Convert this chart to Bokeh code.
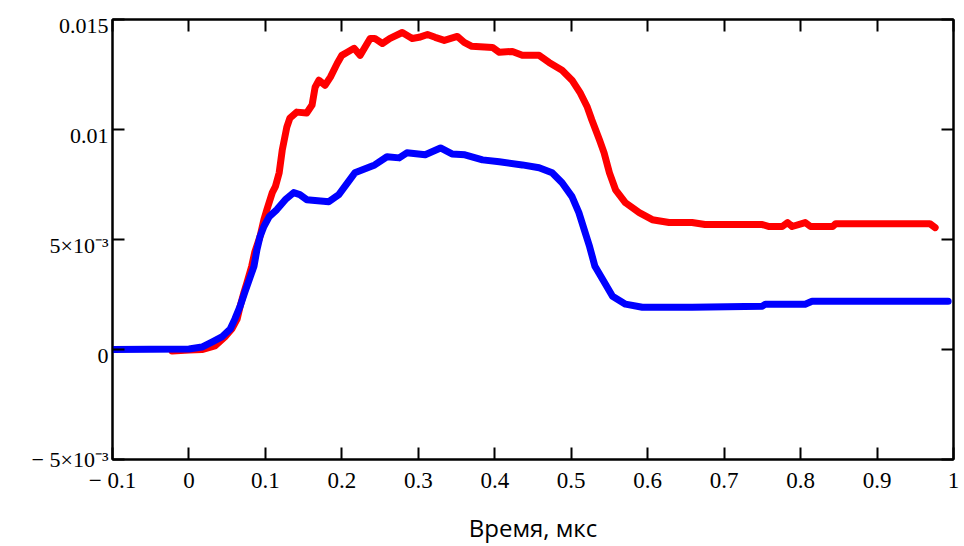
from bokeh.plotting import figure
from bokeh.models import LinearAxis, FixedTicker, Range1d
from bokeh.embed import file_html
from bokeh.resources import INLINE

# ---- data ----
red_t = [-0.022, 0.0, 0.017, 0.034, 0.047, 0.056, 0.063, 0.067, 0.072, 0.076, 0.082, 0.086,
         0.093, 0.098, 0.102, 0.109, 0.113, 0.118, 0.122, 0.128, 0.132, 0.141, 0.154, 0.161,
         0.165, 0.170, 0.178, 0.185, 0.194, 0.200, 0.207, 0.216, 0.224, 0.230, 0.237, 0.243,
         0.253, 0.263, 0.279, 0.292, 0.301, 0.312, 0.322, 0.334, 0.351, 0.360, 0.370, 0.397,
         0.406, 0.423, 0.436, 0.458, 0.471, 0.488, 0.501, 0.512, 0.521, 0.527, 0.537, 0.543,
         0.550, 0.558, 0.571, 0.589, 0.606, 0.628, 0.658, 0.675, 0.750, 0.759, 0.776, 0.783,
         0.789, 0.806, 0.813, 0.842, 0.846, 0.969, 0.976]
red_v = [-0.00007, -0.00002, 0.0, 0.00016, 0.00057, 0.00093, 0.00138, 0.00197, 0.00260, 0.00305,
         0.00378, 0.00441, 0.00514, 0.00590, 0.00636, 0.00713, 0.00740, 0.00803, 0.00906, 0.01011,
         0.01052, 0.01079, 0.01075, 0.01111, 0.01192, 0.01224, 0.01201, 0.01238, 0.01301, 0.01337,
         0.01351, 0.01369, 0.01337, 0.01373, 0.01414, 0.01414, 0.01391, 0.01414, 0.01441, 0.01414,
         0.01419, 0.01432, 0.01419, 0.01405, 0.01423, 0.01396, 0.01378, 0.01373, 0.01351, 0.01355,
         0.01337, 0.01337, 0.01305, 0.01269, 0.01224, 0.01165, 0.01102, 0.01043, 0.00952, 0.00894,
         0.00803, 0.00726, 0.00667, 0.00622, 0.00590, 0.00577, 0.00577, 0.00568, 0.00568, 0.00559,
         0.00559, 0.00577, 0.00559, 0.00577, 0.00559, 0.00559, 0.00572, 0.00572, 0.00554]

blue_t = [-0.1, 0.0, 0.017, 0.030, 0.043, 0.054, 0.060, 0.067, 0.073, 0.079, 0.085, 0.089,
          0.093, 0.098, 0.105, 0.115, 0.126, 0.137, 0.145, 0.154, 0.183, 0.196, 0.217, 0.243,
          0.259, 0.275, 0.285, 0.309, 0.329, 0.344, 0.361, 0.384, 0.406, 0.436, 0.458, 0.475,
          0.488, 0.501, 0.510, 0.517, 0.524, 0.531, 0.541, 0.554, 0.571, 0.593, 0.658, 0.750,
          0.754, 0.806, 0.815, 0.868, 0.993]
blue_v = [0.0, 0.00002, 0.00011, 0.00034, 0.00057, 0.00093, 0.00138, 0.00197, 0.00260, 0.00319,
          0.00378, 0.00455, 0.00514, 0.00559, 0.00604, 0.00636, 0.00681, 0.00713, 0.00704, 0.00681,
          0.00672, 0.00704, 0.00803, 0.00839, 0.00876, 0.00871, 0.00894, 0.00885, 0.00916, 0.00889,
          0.00885, 0.00862, 0.00853, 0.00839, 0.00826, 0.00803, 0.00758, 0.00695, 0.00622, 0.00545,
          0.00468, 0.00378, 0.00319, 0.00242, 0.00206, 0.00192, 0.00192, 0.00197, 0.00206, 0.00206,
          0.00219, 0.00219, 0.00219]

x_ticks = [-0.1, 0, 0.1, 0.2, 0.3, 0.4, 0.5, 0.6, 0.7, 0.8, 0.9, 1]
x_labels = ["− 0.1", "0", "0.1", "0.2", "0.3", "0.4", "0.5", "0.6", "0.7", "0.8", "0.9", "1"]
y_ticks = [-0.005, 0, 0.005, 0.01, 0.015]
y_labels = ["− 5×10⁻³", "0", "5×10⁻³", "0.01", "0.015"]
x_title = "Время, мкс"

SERIF = "Liberation Serif"
Y0, Y1 = -0.005, 0.015
LABEL_DROP = 0.00027   # moves the y tick labels ~6px below their ticks, as in the reference

p = figure(width=964, height=546, x_range=Range1d(-0.1, 1), y_range=Range1d(Y0, Y1),
           output_backend="svg", toolbar_location=None,
           min_border_left=112, min_border_top=19, min_border_right=11, min_border_bottom=10)
p.grid.visible = False
p.outline_line_color = "black"
p.outline_line_width = 2
p.background_fill_color = "white"
p.border_fill_color = "white"
lbl_start, lbl_end = Y0 + LABEL_DROP, Y1 + LABEL_DROP
p.extra_y_ranges = {"lbl": Range1d(lbl_start, lbl_end)}


def style_axis(ax, ticks):
    ax.ticker = FixedTicker(ticks=ticks)
    ax.major_tick_in = 12
    ax.major_tick_out = 0
    ax.minor_tick_line_color = None
    ax.axis_line_color = "black"
    ax.axis_line_width = 2
    ax.major_tick_line_color = "black"
    ax.major_tick_line_width = 2


bx = p.xaxis[0]
style_axis(bx, x_ticks)
bx.major_label_overrides = {t: s for t, s in zip(x_ticks, x_labels)}
bx.major_label_text_font = SERIF
bx.major_label_text_font_size = "23px"
bx.major_label_text_color = "black"
bx.major_label_standoff = 8
bx.axis_label = x_title
bx.axis_label_text_font = "Open Sans"
bx.axis_label_text_font_style = "normal"
bx.axis_label_text_font_size = "24px"
bx.axis_label_text_color = "black"
bx.axis_label_standoff = 15

# left ticks (no labels), innermost
ly = p.yaxis[0]
style_axis(ly, y_ticks)
ly.major_label_overrides = {t: "" for t in y_ticks}
ly.major_label_standoff = 0

# left tick labels, on a slightly shifted range; the lowest one is kept at the range edge
lab_ticks = [max(t, lbl_start) for t in y_ticks]
lab = LinearAxis(y_range_name="lbl")
lab.ticker = FixedTicker(ticks=lab_ticks)
lab.axis_line_color = None
lab.major_tick_line_color = None
lab.minor_tick_line_color = None
lab.major_tick_in = 0
lab.major_tick_out = 0
lab.major_label_overrides = {t: s for t, s in zip(lab_ticks, y_labels)}
lab.major_label_text_font = SERIF
lab.major_label_text_font_size = "22px"
lab.major_label_text_color = "black"
lab.major_label_standoff = 4
p.add_layout(lab, "left")

top = LinearAxis()
style_axis(top, x_ticks)
top.major_label_overrides = {t: "" for t in x_ticks}
top.major_label_standoff = 0
p.add_layout(top, "above")

right = LinearAxis()
style_axis(right, y_ticks)
right.major_label_overrides = {t: "" for t in y_ticks}
right.major_label_standoff = 0
p.add_layout(right, "right")

p.line(red_t, red_v, line_color="#ff0000", line_width=7, line_join="round", line_cap="round")
p.line(blue_t, blue_v, line_color="#0000ff", line_width=7, line_join="round", line_cap="round")

open("out.html", "w").write(file_html(p, INLINE))
